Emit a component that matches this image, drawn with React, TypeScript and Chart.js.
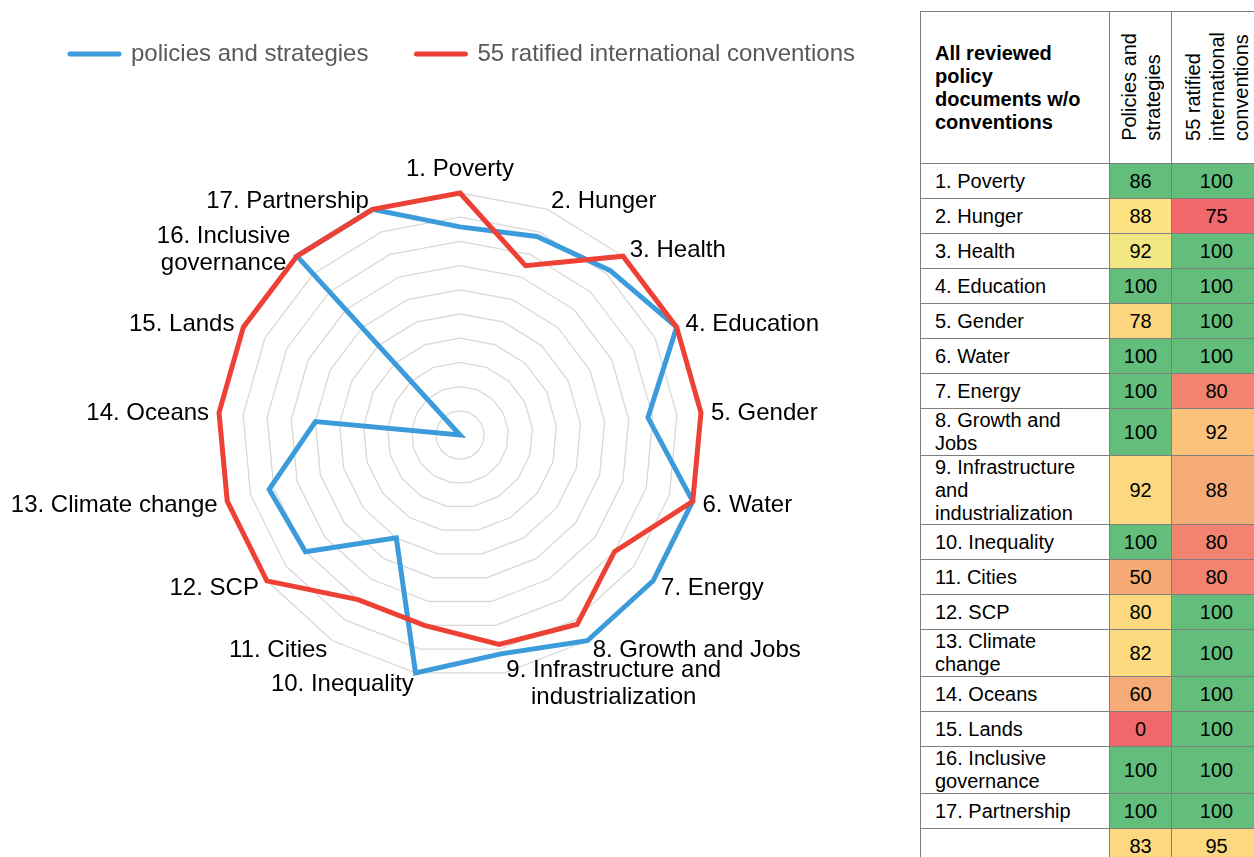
import React, { useEffect, useRef } from "react";
import { Chart, registerables } from "chart.js";

Chart.register(...registerables);

// ---------- data ----------
const categories = [
  "1. Poverty",
  "2. Hunger",
  "3. Health",
  "4. Education",
  "5. Gender",
  "6. Water",
  "7. Energy",
  "8. Growth and Jobs",
  "9. Infrastructure and industrialization",
  "10. Inequality",
  "11. Cities",
  "12. SCP",
  "13. Climate change",
  "14. Oceans",
  "15. Lands",
  "16. Inclusive governance",
  "17. Partnership",
];

const chartLabels: (string | string[])[] = [
  "1. Poverty",
  "2. Hunger",
  "3. Health",
  "4. Education",
  "5. Gender",
  "6. Water",
  "7. Energy",
  "8. Growth and Jobs",
  ["9. Infrastructure and", "industrialization"],
  "10. Inequality",
  "11. Cities",
  "12. SCP",
  "13. Climate change",
  "14. Oceans",
  "15. Lands",
  ["16. Inclusive", "governance"],
  "17. Partnership",
];

const seriesNames = ["policies and strategies", "55 ratified international conventions"];
const policiesValues = [86, 88, 92, 100, 78, 100, 100, 100, 92, 100, 50, 80, 82, 60, 0, 100, 100];
const conventionsValues = [100, 75, 100, 100, 100, 100, 80, 92, 88, 80, 80, 100, 100, 100, 100, 100, 100];
const totals = [83, 95];

const tableTitle = "All reviewed policy documents w/o conventions";
const columnHeaders = [
  ["Policies and", "strategies"],
  ["55 ratified", "international", "conventions"],
];

const scaleMin = 0;
const scaleMax = 100;
const scaleStep = 10;

// ---------- styles ----------
const FONT = '"Liberation Sans", Arial, Helvetica, sans-serif';
const BLUE = "#3C9BDA";
const RED = "#EE4136";
const GRID = "#D9D9D9";
const BORDER = "1px solid #7F7F7F";

const G = "#63BE7B";
const policiesColors = [
  G, "#FEE283", "#F2E783", G, "#FCD57F", G, G, G, "#FCD980", G,
  "#F5AA76", "#FCD980", "#FCDA80", "#F5AB77", "#F0686B", G, G,
];
const conventionsColors = [
  G, "#F0686B", G, G, G, G, "#F28370", "#FCC27C", "#F6AC77", "#F28370",
  "#F28370", G, G, G, G, G, G,
];
const totalsColors = ["#FCD980", "#FCD980"];
const rowHeights = [35, 35, 35, 35, 35, 35, 35, 47, 69, 35, 35, 35, 47, 35, 35, 47, 35];

const pointLabelPlugin = {
  id: "sdgPointLabels",
  afterDatasetsDraw(chart: any) {
    const scale = chart.scales.r;
    const ctx = chart.ctx;
    const lh = 27;
    ctx.save();
    ctx.font = `24px ${FONT}`;
    ctx.fillStyle = "#000000";
    ctx.textBaseline = "middle";
    ctx.textAlign = "center";
    (chart.data.labels as (string | string[])[]).forEach((label, i) => {
      const lines = Array.isArray(label) ? label : [label];
      const p = scale.getPointPosition(i, scale.drawingArea + 10);
      const w = Math.max(...lines.map((l) => ctx.measureText(l).width));
      const dx = p.x - scale.xCenter;
      let cx = p.x;
      if (dx > 2) cx = p.x + w / 2;
      else if (dx < -2) cx = p.x - w / 2;
      const blockH = lines.length * lh;
      const top =
        Math.abs(dx) <= 2 && p.y < scale.yCenter ? p.y - blockH : p.y - blockH / 2 + 1.5;
      lines.forEach((l, k) => ctx.fillText(l, cx, top + lh * k + lh / 2));
    });
    ctx.restore();
  },
};

function RadarChart() {
  const ref = useRef<HTMLCanvasElement | null>(null);
  useEffect(() => {
    if (!ref.current) return;
    const chart = new Chart(ref.current, {
      type: "radar",
      data: {
        labels: chartLabels,
        datasets: [
          {
            label: seriesNames[0],
            data: policiesValues,
            borderColor: BLUE,
            backgroundColor: BLUE,
            borderWidth: 5,
            pointRadius: 0,
            fill: false,
            order: 1,
          },
          {
            label: seriesNames[1],
            data: conventionsValues,
            borderColor: RED,
            backgroundColor: RED,
            borderWidth: 5,
            pointRadius: 0,
            fill: false,
            order: 0,
          },
        ],
      },
      options: {
        responsive: false,
        maintainAspectRatio: false,
        animation: false,
        events: [],
        layout: { padding: { top: -6, left: 0, right: 0, bottom: 0 } },
        plugins: {
          tooltip: { enabled: false },
          legend: {
            position: "top",
            labels: {
              usePointStyle: true,
              pointStyle: "line",
              pointStyleWidth: 49,
              padding: 48,
              color: "#595959",
              font: { family: FONT, size: 24 },
              sort: (a: any, b: any) => a.datasetIndex - b.datasetIndex,
              generateLabels: (c: any) =>
                c.data.datasets.map((ds: any, i: number) => ({
                  text: ds.label,
                  fillStyle: ds.borderColor,
                  strokeStyle: ds.borderColor,
                  lineWidth: 5,
                  lineCap: "round",
                  pointStyle: "line",
                  fontColor: "#595959",
                  hidden: false,
                  datasetIndex: i,
                })),
            },
          },
        },
        scales: {
          r: {
            min: scaleMin,
            max: scaleMax,
            ticks: { display: false, stepSize: scaleStep },
            grid: { color: GRID, lineWidth: 1.3 },
            angleLines: { display: false },
            pointLabels: { display: false },
            afterFit: (s: any) => {
              s.xCenter = 460;
              s.yCenter = 435;
              s.drawingArea = 242;
            },
          } as any,
        },
      },
      plugins: [pointLabelPlugin],
    });
    return () => chart.destroy();
  }, []);
  return (
    <canvas
      ref={ref}
      width={925}
      height={857}
      style={{ position: "absolute", left: 0, top: 0, width: 925, height: 857 }}
    />
  );
}

const cellBase: React.CSSProperties = {
  boxSizing: "border-box",
  borderRight: BORDER,
  borderBottom: BORDER,
  display: "flex",
  alignItems: "center",
  fontSize: 20,
  lineHeight: "23px",
  color: "#000",
};

function DataTable() {
  const cells: React.ReactNode[] = [];
  cells.push(
    <div key="h0" style={{ ...cellBase, paddingLeft: 14, fontWeight: "bold" }}>
      <div style={{ width: 165 }}>{tableTitle}</div>
    </div>
  );
  columnHeaders.forEach((lines, j) => {
    cells.push(
      <div
        key={"h" + (j + 1)}
        style={{ ...cellBase, alignItems: "flex-end", justifyContent: "center", paddingBottom: 22 }}
      >
        <div
          style={{
            writingMode: "vertical-rl",
            transform: "rotate(180deg)",
            lineHeight: "24px",
            whiteSpace: "nowrap",
            textAlign: "start",
          }}
        >
          {lines.map((l, k) => (
            <React.Fragment key={k}>
              {l}
              {k < lines.length - 1 ? <br /> : null}
            </React.Fragment>
          ))}
        </div>
      </div>
    );
  });
  categories.forEach((cat, i) => {
    cells.push(
      <div key={"c" + i} style={{ ...cellBase, paddingLeft: 14 }}>
        <div style={{ width: 160 }}>{cat}</div>
      </div>
    );
    cells.push(
      <div key={"p" + i} style={{ ...cellBase, justifyContent: "center", background: policiesColors[i] }}>
        {policiesValues[i]}
      </div>
    );
    cells.push(
      <div key={"v" + i} style={{ ...cellBase, justifyContent: "center", background: conventionsColors[i] }}>
        {conventionsValues[i]}
      </div>
    );
  });
  cells.push(<div key="t0" style={{ ...cellBase }} />);
  totals.forEach((t, j) => {
    cells.push(
      <div key={"t" + (j + 1)} style={{ ...cellBase, justifyContent: "center", background: totalsColors[j] }}>
        {t}
      </div>
    );
  });
  return (
    <div
      style={{
        position: "absolute",
        left: 920,
        top: 11,
        display: "grid",
        gridTemplateColumns: "189px 62px 90px",
        gridTemplateRows: ["152px", ...rowHeights.map((h) => h + "px"), "35px"].join(" "),
        borderTop: BORDER,
        borderLeft: BORDER,
        fontFamily: FONT,
        background: "#fff",
      }}
    >
      {cells}
    </div>
  );
}

export default function App() {
  return (
    <div
      style={{
        position: "absolute",
        left: 0,
        top: 0,
        width: 1254,
        height: 857,
        overflow: "hidden",
        background: "#ffffff",
        fontFamily: FONT,
      }}
    >
      <RadarChart />
      <DataTable />
    </div>
  );
}
